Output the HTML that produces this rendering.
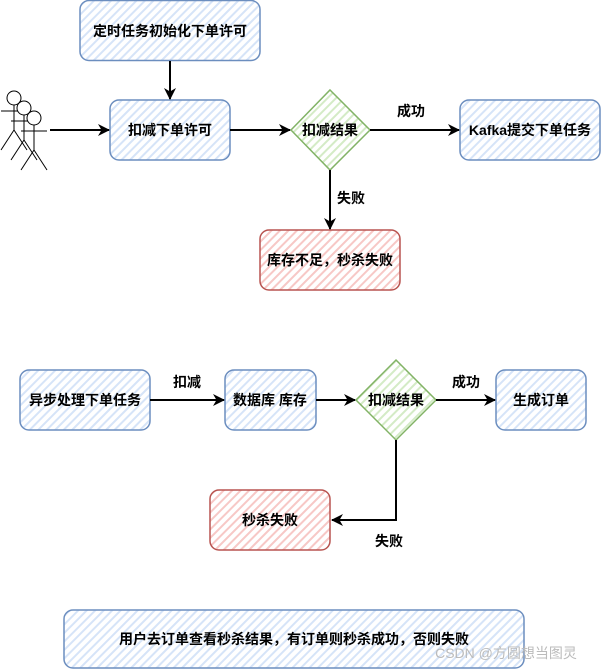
<!DOCTYPE html>
<html><head><meta charset="utf-8"><style>
html,body{margin:0;padding:0;background:#fff;}
svg{display:block;}
text{font-family:"Liberation Sans","Noto Sans CJK SC",sans-serif;font-size:14px;font-weight:bold;fill:#000;}
</style></head><body>
<svg width="601" height="671" viewBox="0 0 601 671" xmlns="http://www.w3.org/2000/svg">
<defs>
<pattern id="hb" width="6" height="6" patternUnits="userSpaceOnUse" patternTransform="rotate(-45)">
<rect width="6" height="6" fill="#fff"/><rect width="6" height="2" fill="#d6e4f8"/></pattern>
<pattern id="hr" width="6" height="6" patternUnits="userSpaceOnUse" patternTransform="rotate(-45)">
<rect width="6" height="6" fill="#fff"/><rect width="6" height="2" fill="#f7c8c6"/></pattern>
<pattern id="hg" width="6" height="6" patternUnits="userSpaceOnUse" patternTransform="rotate(-45)">
<rect width="6" height="6" fill="#fff"/><rect width="6" height="2" fill="#d4ebc6"/></pattern>
<marker id="a" markerWidth="12" markerHeight="12" refX="11" refY="6" orient="auto" markerUnits="userSpaceOnUse">
<path d="M0,0 L12,6 L0,12 L3.5,6 Z" fill="#000"/></marker>
</defs>
<g stroke-width="1.5">
<rect x="80" y="0.5" width="180" height="60" rx="9" fill="url(#hb)" stroke="#6c8ebf"/>
<rect x="110" y="100" width="120" height="60" rx="9" fill="url(#hb)" stroke="#6c8ebf"/>
<polygon points="330,90 370,130 330,170 291,130" fill="url(#hg)" stroke="#82b366"/>
<rect x="460" y="100" width="140" height="60" rx="9" fill="url(#hb)" stroke="#6c8ebf"/>
<rect x="260" y="230" width="140" height="60" rx="9" fill="url(#hr)" stroke="#b85450"/>
<rect x="20" y="370" width="130" height="60" rx="9" fill="url(#hb)" stroke="#6c8ebf"/>
<rect x="225" y="370" width="91" height="60" rx="9" fill="url(#hb)" stroke="#6c8ebf"/>
<polygon points="396,360 436,400 396,440 356,400" fill="url(#hg)" stroke="#82b366"/>
<rect x="496" y="370" width="90" height="60" rx="9" fill="url(#hb)" stroke="#6c8ebf"/>
<rect x="210" y="490" width="120" height="60" rx="9" fill="url(#hr)" stroke="#b85450"/>
<rect x="64" y="610" width="460" height="58" rx="9" fill="url(#hb)" stroke="#6c8ebf"/>
</g>
<g stroke="#000" stroke-width="2" fill="none">
<line x1="170" y1="61" x2="170" y2="99" marker-end="url(#a)"/>
<line x1="50" y1="130" x2="109" y2="130" marker-end="url(#a)"/>
<line x1="230" y1="130" x2="290" y2="130" marker-end="url(#a)"/>
<line x1="370" y1="130" x2="459" y2="130" marker-end="url(#a)"/>
<line x1="330" y1="170" x2="330" y2="229" marker-end="url(#a)"/>
<line x1="150" y1="400" x2="224" y2="400" marker-end="url(#a)"/>
<line x1="316" y1="400" x2="355" y2="400" marker-end="url(#a)"/>
<line x1="436" y1="400" x2="495" y2="400" marker-end="url(#a)"/>
<polyline points="396,440 396,520 332,520" marker-end="url(#a)"/>
</g>
<g stroke="#000" stroke-width="1" fill="#fff">
<g><circle cx="14" cy="98" r="7"/><line x1="14" y1="105" x2="14" y2="130"/><line x1="1" y1="111" x2="27" y2="111"/><line x1="14" y1="130" x2="1" y2="150"/><line x1="14" y1="130" x2="27" y2="150"/></g>
<g transform="translate(10,10)"><circle cx="14" cy="98" r="7"/><line x1="14" y1="105" x2="14" y2="130"/><line x1="1" y1="111" x2="27" y2="111"/><line x1="14" y1="130" x2="1" y2="150"/><line x1="14" y1="130" x2="27" y2="150"/></g>
<g transform="translate(20,20)"><circle cx="14" cy="98" r="7"/><line x1="14" y1="105" x2="14" y2="130"/><line x1="1" y1="111" x2="27" y2="111"/><line x1="14" y1="130" x2="1" y2="150"/><line x1="14" y1="130" x2="27" y2="150"/></g>
</g>
<g text-anchor="middle" dominant-baseline="central">
<text x="170" y="31">定时任务初始化下单许可</text>
<text x="170" y="130">扣减下单许可</text>
<text x="330" y="130">扣减结果</text>
<text x="530" y="130">Kafka提交下单任务</text>
<text x="330" y="260">库存不足，秒杀失败</text>
<text x="411" y="111">成功</text>
<text x="351" y="198">失败</text>
<text x="85" y="400">异步处理下单任务</text>
<text x="270" y="400">数据库 库存</text>
<text x="396" y="400">扣减结果</text>
<text x="541" y="400">生成订单</text>
<text x="270" y="520">秒杀失败</text>
<text x="187" y="382">扣减</text>
<text x="466" y="382">成功</text>
<text x="389" y="541">失败</text>
<text x="294" y="639">用户去订单查看秒杀结果，有订单则秒杀成功，否则失败</text>
<text x="506" y="653" style="font-weight:normal;font-size:14px;fill:#bbb">CSDN @方圆想当图灵</text>
</g>
</svg>
</body></html>
